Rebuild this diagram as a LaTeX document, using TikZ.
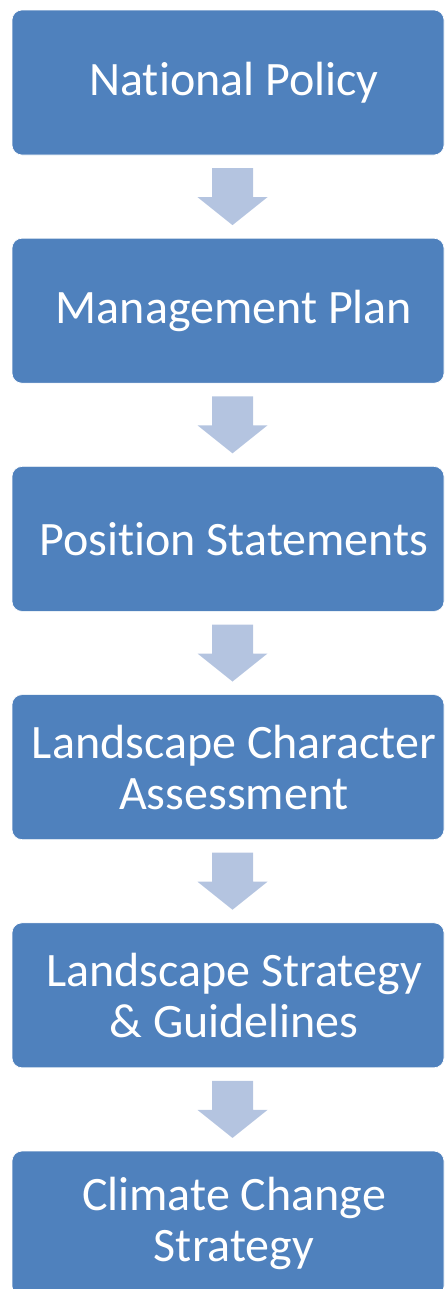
\documentclass[tikz,border=0pt]{standalone}
\usepackage{fontspec}
\setmainfont{Carlito}[Ligatures=NoCommon]
\usetikzlibrary{calc}
\definecolor{boxblue}{RGB}{79,129,189}
\definecolor{arrowblue}{RGB}{180,196,224}
\begin{document}
\begin{tikzpicture}[x=0.75pt,y=0.75pt,yscale=-1,xscale=1,
	stepbox/.style={fill=boxblue, draw=white, line width=0.5pt, rounded corners=7.5pt,
		minimum width=324pt, minimum height=108.75pt, inner sep=0pt},
	steptext/.style={text=white, align=center, inner sep=0pt, font=\fontsize{36}{38.3}\selectfont},
	downarrow/.style={fill=arrowblue}]
	% page frame, last box runs off the bottom
	\useasboundingbox (0,0) rectangle (445,1289);
	
	% Boxes
	\node [stepbox] (b1) at (228,82.5) {};
	\node [stepbox] (b2) at (228,310.7) {};
	\node [stepbox] (b3) at (228,538.9) {};
	\node [stepbox] (b4) at (228,767.1) {};
	\node [stepbox] (b5) at (228,995.3) {};
	\node [stepbox] (b6) at (228,1223.5) {};
	
	% Text Nodes
	\node [steptext] (t1) at ([xshift=4.5]b1.center) {National Policy};
	\node [steptext] (t2) at ([xshift=4.5]b2.center) {Management Plan};
	\node [steptext] (t3) at ([xshift=4.5]b3.center) {Position Statements};
	\node [steptext] (t4) at ([xshift=4.5]b4.center) {Landscape Character\\Assessment};
	\node [steptext] (t5) at ([xshift=4.5]b5.center) {Landscape Strategy\\\& Guidelines};
	\node [steptext] (t6) at ([xshift=4.5]b6.center) {Climate Change\\Strategy};
	
	% Block arrows between boxes
	\foreach \a/\b in {b1/b2,b2/b3,b3/b4,b4/b5,b5/b6}{
		\coordinate (m) at ($(\a.south)!0.5!(\b.north)+(4.5,0)$);
		\fill [downarrow, shift={(m)}] (-20.5,-28.5) -- (20.5,-28.5) -- (20.5,0.5) -- (35,0.5)
			-- (0,28.5) -- (-35,0.5) -- (-20.5,0.5) -- cycle;
	}
\end{tikzpicture}
\end{document}
